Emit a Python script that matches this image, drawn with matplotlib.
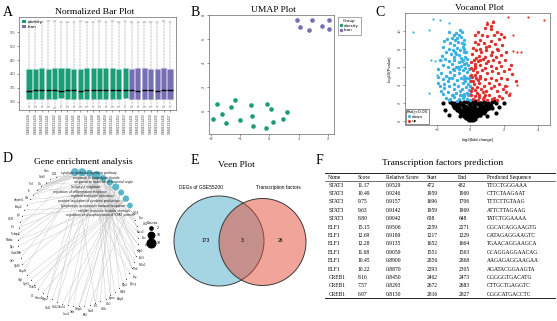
import numpy as np
import matplotlib
matplotlib.use('Agg')
import matplotlib.pyplot as plt
from matplotlib.patches import Circle, Patch
from matplotlib.lines import Line2D

W, H = 557, 321
SERIF = 'Liberation Serif'
SANS = 'Liberation Sans'
GREEN = '#1B9E77'
PURPLE = '#7570B3'
BLUE = '#3DB0E0'
RED = '#E0312F'

# ---------------- A: normalized box plot ----------------
samples = ['GSM1331428', 'GSM1331429', 'GSM1331440', 'GSM1331441', 'GSM1331442',
           'GSM1331443', 'GSM1331444', 'GSM1331445', 'GSM1331446', 'GSM1331447',
           'GSM1331448', 'GSM1331449', 'GSM1331450', 'GSM1331451', 'GSM1331452',
           'GSM1331453', 'GSM1331431', 'GSM1331432', 'GSM1331433', 'GSM1331434',
           'GSM1331435', 'GSM1331436', 'GSM1331437']
groups = ['obesity'] * 16 + ['lean'] * 7
box_med = [3.40, 3.41, 3.41, 3.42, 3.41, 3.40, 3.41, 3.41, 3.40, 3.41, 3.41, 3.41,
           3.42, 3.42, 3.41, 3.41, 3.41, 3.40, 3.41, 3.41, 3.40, 3.41, 3.41]
box_q1 = [3.11, 3.11, 3.11, 3.11, 3.11, 3.12, 3.11, 3.11, 3.11, 3.11, 3.11, 3.11,
          3.11, 3.11, 3.11, 3.12, 3.11, 3.11, 3.11, 3.11, 3.11, 3.11, 3.11]
box_q3 = [4.19, 4.19, 4.20, 4.19, 4.21, 4.22, 4.20, 4.19, 4.18, 4.20, 4.20, 4.21,
          4.20, 4.21, 4.19, 4.22, 4.19, 4.20, 4.20, 4.18, 4.19, 4.21, 4.19]
box_lo = [2.81, 2.80, 2.81, 2.80, 2.78, 2.80, 2.81, 2.80, 2.81, 2.80, 2.81, 2.80,
          2.81, 2.80, 2.81, 2.80, 2.81, 2.80, 2.81, 2.80, 2.81, 2.80, 2.81]
box_hi = [5.88, 5.90, 5.88, 5.89, 5.91, 5.88, 5.87, 5.86, 5.89, 5.88, 5.87, 5.89,
          5.88, 5.89, 5.88, 5.90, 5.87, 5.88, 5.87, 5.86, 5.88, 5.89, 5.88]

# ---------------- B: UMAP ----------------
umap_obese_x = [-1.80, -1.93, -1.61, -1.49, -1.31, -1.18, -1.02, -0.63, -0.60, -0.55,
                -0.12, -0.07, 0.05, 0.12, 0.45, 0.59]
umap_obese_y = [0.58, -0.67, -0.25, -0.98, 0.33, 0.94, -0.75, 0.50, -0.39, -1.25,
                -1.39, 0.63, 0.17, -0.89, -0.64, -0.08]
umap_lean_x = [0.93, 1.04, 1.44, 1.36, 1.78, 2.04, 2.04]
umap_lean_y = [7.61, 7.05, 7.61, 6.78, 7.13, 7.61, 6.83]

# ---------------- C: volcano ----------------
down_x = [-1.25, -1.0, -0.85, -0.7, -0.55, -1.1, -0.6, -0.9, -1.4, -0.75, -0.5, -1.2, -1.55, -0.95,
          -1.6, -1.3, -1.05, -0.8, -0.6, -0.45, -1.45, -1.15, -0.9, -0.65, -0.4, -1.7, -0.3, -1.0,
          -1.8, -1.5, -1.25, -0.95, -0.7, -0.45, -0.25, -1.6, -1.35, -1.1, -0.85, -0.55, -0.3, -0.15,
          -1.9, -1.0, -0.7, -1.75, -1.45, -1.2, -0.95, -0.65, -0.4, -0.2, -0.1, -1.65, -1.35, -1.1,
          -0.8, -0.55, -0.3, -1.9, -0.95, -0.15, -1.8, -1.55, -1.25, -1.0, -0.75, -0.5, -0.25, -0.08,
          -1.6, -1.35, -1.1, -0.85, -0.6, -0.35, -0.12, -1.45, -1.2, -0.95, -0.7, -0.45, -0.2, -0.05,
          -0.35, -0.4, -0.25, -0.2, -0.1, -0.05, -0.05, -0.03, -0.02, -0.5, -0.8, -0.35, -0.55, -0.35,
          -0.45, -0.25, -0.45, -0.6, -0.35, -0.8, -1.05, -1.3, -0.5, -0.75, -1.05, -0.85, -1.3, -1.55,
          -1.75, -1.95, -0.35, -0.2, -0.5]
down_y = [9.9, 9.6, 9.8, 9.5, 9.3, 9.2, 10.1, 9.0, 9.1, 8.8, 8.7, 8.6, 8.9, 8.4,
          8.2, 8.0, 7.9, 8.1, 7.9, 8.2, 7.6, 7.4, 7.6, 7.3, 7.6, 7.2, 7.1, 7.1,
          6.8, 6.9, 6.6, 6.8, 6.5, 6.7, 6.4, 6.2, 6.0, 6.3, 6.0, 6.1, 5.9, 6.2,
          5.8, 5.6, 5.7, 5.3, 5.0, 5.4, 5.1, 5.3, 5.0, 5.4, 4.8, 4.6, 4.4, 4.7,
          4.5, 4.7, 4.4, 4.2, 4.1, 4.1, 3.8, 3.6, 3.9, 3.5, 3.8, 3.5, 3.7, 3.4,
          3.0, 3.2, 2.9, 3.1, 2.8, 3.0, 2.8, 2.5, 2.4, 2.6, 2.35, 2.5, 2.4, 2.3,
          9.0, 8.0, 7.6, 6.9, 5.8, 5.0, 4.4, 3.8, 3.0, 9.9, 9.2, 8.5, 7.0, 6.3,
          5.6, 4.8, 4.2, 3.3, 2.7, 2.2, 2.8, 2.3, 6.6, 6.0, 5.8, 7.4, 4.8, 4.1,
          3.3, 4.9, 4.6, 3.1, 2.9]
down_out_x = [-3.39, -2.22, -1.82, -2.46, -2.36, -2.08, -1.76, -2.46, -1.27, -2.0]
down_out_y = [9.87, 11.33, 11.25, 10.13, 6.78, 6.6, 6.78, 3.06, 10.88, 5.1]
up_x = [1.0, 1.35, 0.85, 1.2, 1.6, 0.7, 1.0, 1.4, 1.85, 0.6, 1.25, 1.7, 2.0,
        0.45, 0.8, 1.1, 1.45, 1.9, 0.35, 0.65, 0.95, 1.3, 1.65, 2.1, 0.5, 0.85, 1.2, 1.55, 1.85,
        0.2, 0.45, 0.75, 1.05, 1.35, 1.7, 2.05, 0.3, 0.6, 0.9, 1.2, 1.5, 1.85, 2.3, 0.15, 0.4,
        0.7, 1.0, 1.3, 1.65, 2.0, 0.1, 0.35, 0.6, 0.9, 1.2, 1.5, 1.8, 2.2, 0.2, 0.5, 0.8, 1.1,
        1.4, 1.7, 2.05, 0.08, 0.3, 0.65, 0.95, 1.25, 1.6, 1.95, 0.05, 0.25, 0.5, 0.8, 1.1, 1.4,
        1.7, 0.15, 0.45, 0.75, 1.0, 1.3, 1.6, 2.3, 0.25, 0.15, 0.4,
        0.3, 0.25, 0.15, 0.1, 0.05, 0.05, 0.03, 0.02, 0.02, 0.45, 0.55, 0.35, 0.3, 0.25,
        0.45, 0.4, 0.5, 0.9, 0.6, 0.95, 0.55, 0.75, 0.95, 1.6, 2.4, 2.5, 2.7, 1.9, 2.1, 1.25]
up_y = [10.8, 11.0, 10.3, 10.2, 9.9, 9.6, 9.4, 9.5, 9.7, 9.0, 8.9, 9.1, 9.3,
        8.5, 8.6, 8.3, 8.5, 8.4, 7.9, 7.7, 7.9, 7.6, 7.9, 7.7, 7.2, 7.1, 7.3, 7.1, 7.3,
        6.8, 6.6, 6.9, 6.6, 6.8, 6.5, 6.7, 6.1, 6.2, 5.9, 6.1, 5.9, 6.1, 5.8, 5.6, 5.4,
        5.6, 5.3, 5.5, 5.3, 5.5, 4.9, 4.7, 5.0, 4.6, 4.8, 4.5, 4.8, 4.6, 4.1, 4.2, 3.9, 4.2,
        3.9, 4.1, 3.9, 3.6, 3.4, 3.5, 3.3, 3.6, 3.3, 3.5, 2.9, 2.7, 2.9, 2.6, 2.8, 2.5,
        2.7, 2.35, 2.3, 2.4, 2.3, 2.35, 2.3, 2.9, 6.3, 4.4, 3.1,
        9.5, 8.8, 8.1, 7.4, 6.5, 5.9, 5.1, 4.4, 3.3, 9.9, 8.0, 7.0, 5.9, 5.1,
        4.5, 3.7, 2.6, 2.9, 6.7, 6.4, 4.8, 3.2, 8.2, 8.0, 6.2, 5.2, 4.4, 2.5, 3.2, 10.5]
up_out_x = [0.98, 1.37, 2.23, 3.42, 4.39, 2.56, 2.56, 3.02, 2.8, 2.36, 2.76, 2.2]
up_out_y = [10.95, 11.06, 11.55, 11.55, 11.25, 9.58, 7.79, 7.67, 7.67, 3.06, 4.0, 3.8]
ns_x = [-1.2, -0.95, -0.7, -0.45, -0.2, 0.05, 0.3, 0.55, 0.8, 1.05, 1.3, 1.5,
        -1.05, -0.8, -0.55, -0.3, -0.05, 0.2, 0.45, 0.7, 0.95, 1.2,
        -0.9, -0.65, -0.4, -0.15, 0.1, 0.35, 0.6, 0.85, 1.1,
        -0.7, -0.5, -0.3, -0.1, 0.1, 0.3, 0.5, 0.7, 0.9,
        -0.55, -0.35, -0.15, 0.05, 0.25, 0.45, 0.65,
        -0.4, -0.2, 0.0, 0.2, 0.4, -0.25, -0.08, 0.08, 0.25, -0.1, 0.05, 0.15,
        -1.5, 1.7, -1.3, 1.5, 2.0, -1.6, -0.6, 0.6, -0.25, 0.3, -0.8, 1.0, 0.0, -0.05, 0.12,
        -1.1, -0.85, -0.6, -0.35, -0.1, 0.15, 0.4, 0.65, 0.9, 1.15, 1.4,
        -0.95, -0.7, -0.45, -0.2, 0.05, 0.3, 0.55, 0.8, 1.05, 1.3,
        -0.8, -0.55, -0.25, 0.0, 0.25, 0.5, 0.75, 1.0,
        -0.6, -0.4, -0.2, 0.0, 0.2, 0.4, 0.6, 0.8,
        -0.45, -0.25, -0.05, 0.15, 0.35, 0.55, -0.3, -0.1, 0.1, 0.3, -0.15, 0.0, 0.15]
ns_y = [2.1, 2.0, 2.15, 1.95, 2.1, 2.0, 2.15, 1.95, 2.1, 2.0, 2.1, 1.9,
        1.75, 1.65, 1.8, 1.6, 1.75, 1.6, 1.8, 1.6, 1.75, 1.6,
        1.4, 1.3, 1.45, 1.3, 1.45, 1.3, 1.4, 1.3, 1.4,
        1.1, 1.0, 1.15, 1.0, 1.1, 0.95, 1.1, 1.0, 1.1,
        0.8, 0.7, 0.8, 0.7, 0.8, 0.7, 0.8,
        0.5, 0.45, 0.55, 0.45, 0.5, 0.25, 0.2, 0.28, 0.2, 0.05, 0.08, 0.02,
        1.2, 1.5, 0.6, 0.8, 1.9, 1.9, 0.55, 0.6, 1.2, 1.9, 1.9, 0.45, 0.9, 0.35, 0.6,
        1.9, 1.85, 2.0, 2.05, 1.9, 2.05, 2.0, 2.0, 1.9, 1.85, 2.15,
        1.55, 1.5, 1.6, 1.5, 1.55, 1.55, 1.5, 1.5, 1.5, 1.35,
        1.2, 1.2, 1.25, 1.2, 1.2, 1.25, 1.2, 1.25,
        0.9, 0.9, 0.95, 0.9, 0.9, 0.9, 0.9, 0.85,
        0.6, 0.6, 0.62, 0.6, 0.62, 0.6, 0.35, 0.38, 0.4, 0.35, 0.15, 0.12, 0.15]

# ---------------- D: gene-term network ----------------
terms = ['cytokine-mediated signaling pathway', 'response to lipopolysaccharide',
         'response to molecule of bacterial origin', 'leukocyte migration',
         'regulation of inflammatory response', 'myeloid leukocyte activation',
         'positive regulation of cytokine production', 'lymphocyte activation in immune response',
         'cellular response to biotic stimulus', 'regulation of phosphorylation of STAT protein']
genes = ['Cd14', 'Il1rn', 'Ccl2', 'Socs3', 'Fos', 'Jun', 'Egr1', 'Atf3', 'Nr4a1', 'Tlr4',
         'Lep', 'Pparg', 'Spp1', 'Cd68', 'Mmp9', 'Itgam', 'Ccr2', 'Csf1r', 'Il10', 'Stat3',
         'Klf4', 'Cebpb', 'Sele', 'Icam1', 'Vcam1', 'Cxcl2', 'Cxcl1', 'Ptgs2', 'Hmox1', 'C3',
         'Thbs1', 'Cyr61', 'Ctgf', 'Dusp1', 'Zfp36', 'Ier3', 'Gadd45b', 'Myc', 'Nfkbia', 'Tnfaip3',
         'Irf1', 'Cd36', 'Lpl', 'Fabp4', 'Serpine1', 'Cfd', 'Il6', 'Tnf', 'Il1b', 'Cxcl8',
         'Osm', 'Ccl3']
gene_terms = [[0, 3], [0], [3, 4], [0, 9], [1], [1, 2], [2], [1, 5], [2], [1, 2, 4],
              [0], [4], [3], [5], [3], [3, 5], [3], [5], [0, 6], [9],
              [6], [6, 7], [3], [3, 7], [7], [1, 3], [3], [1, 2], [8], [5],
              [8], [8], [8], [1], [6], [2], [8], [7], [4, 8], [4],
              [0, 6], [5], [9], [9], [6], [7], [0, 1, 4], [0, 1, 6], [0, 1, 2], [3, 6],
              [0], [3]]
count_levels = [2, 10, 18]

# ---------------- E: Venn ----------------
venn_sets = ['DEGs of GSE55200', 'Transcription factors']
venn_counts = [173, 3, 26]

# ---------------- F: TF prediction table ----------------
tf_header = ['Name', 'Score', 'Relative Score', 'Start', 'End', 'Predicted Sequence']
tf_name = ['STAT3'] * 5 + ['ELF1'] * 6 + ['CREB1'] * 3
tf_score = ['11.17', '10.49', '9.75', '9.63', '8.80', '15.15', '12.69', '12.28', '11.68',
            '10.45', '10.22', '8.16', '7.57', '6.97']
tf_rel = ['0.9529', '0.9246', '0.9157', '0.9142', '0.9042', '0.9506', '0.9189', '0.9135',
          '0.9059', '0.8900', '0.8870', '0.8450', '0.8293', '0.8130']
tf_start = ['472', '1959', '1696', '1959', '638', '2259', '1217', '1652', '1551', '2856',
            '2293', '2462', '2672', '2816']
tf_end = ['482', '1969', '1706', '1969', '648', '2271', '1229', '1664', '1563', '2868',
          '2305', '2473', '2683', '2827']
tf_seq = ['TTCCTGGGAAA', 'CTTCTAAGAAT', 'TTTCTTGTAAG', 'ATTCTTAGAAG', 'TATCTGGAAAA',
          'GGCACAGGAAGTG', 'GATAGAGGAAGTC', 'TGAACAGGAAGCA', 'GCAGGAGGAACAG', 'AAGAGAGGAAGAA',
          'AGATACGGAAGTA', 'GGGGGTGACATG', 'CTTGCTGAGGTC', 'GGGCATGACCTC']


def box(x0, y0, x1, y1):
    return [x0 / W, 1 - y1 / H, (x1 - x0) / W, (y1 - y0) / H]


def style_frame(ax):
    for s in ax.spines.values():
        s.set_linewidth(0.5)
        s.set_color('#666666')
    ax.tick_params(labelsize=3, length=1.5, width=0.4, pad=1, colors='#444444')
    for lab in ax.get_xticklabels() + ax.get_yticklabels():
        lab.set_fontfamily(SANS)


fig = plt.figure(figsize=(W / 100, H / 100), dpi=100)

# background axes for panel letters and titles (pixel coordinates)
ov = fig.add_axes([0, 0, 1, 1])
ov.set_xlim(0, W)
ov.set_ylim(H, 0)
ov.axis('off')
for letter, x, y in [('A', 8, 12), ('B', 195, 12), ('C', 380, 12),
                     ('D', 8, 158), ('E', 195, 160), ('F', 319, 160)]:
    ov.text(x, y, letter, fontsize=10, family=SERIF, ha='center', va='center')
for title, x, y in [('Normalized Bar Plot', 95, 12.5), ('UMAP Plot', 273, 10),
                    ('Vocanol Plot', 479, 8.5), ('Gene enrichment analysis', 83, 162),
                    ('Veen Plot', 236, 165), ('Transcription factors prediction', 443, 163)]:
    ov.text(x, y, title, fontsize=6.8, family=SERIF, ha='center', va='center')

# ---- A
axa = fig.add_axes(box(19, 17, 176, 110))
stats = []
for i in range(len(samples)):
    stats.append(dict(med=box_med[i], q1=box_q1[i], q3=box_q3[i],
                      whislo=box_lo[i], whishi=box_hi[i], label=samples[i]))
pos = np.arange(1, len(samples) + 1)
bp = axa.bxp(stats, positions=pos, widths=0.8, patch_artist=True, showfliers=False,
             medianprops=dict(color='black', lw=1.0),
             whiskerprops=dict(color='#555555', lw=0.35, linestyle=(0, (1.5, 1.5))),
             capprops=dict(color='#555555', lw=0.35),
             boxprops=dict(lw=0.4))
for patch, g in zip(bp['boxes'], groups):
    c = GREEN if g == 'obesity' else PURPLE
    patch.set_facecolor(c)
    patch.set_edgecolor('#8fd0bd' if g == 'obesity' else '#a9a5d6')
axa.set_xlim(-0.56, 23.94)
axa.set_ylim(2.70, 6.05)
axa.set_yticks([3.0, 3.5, 4.0, 4.5, 5.0, 5.5])
axa.set_xticks(pos)
axa.set_xticklabels(samples, rotation=90)
style_frame(axa)
axa.tick_params(axis='x', labelsize=2.4, length=1.2)
axa.legend(handles=[Patch(fc=GREEN), Patch(fc=PURPLE)], labels=['obesity', 'lean'],
           loc='upper left', frameon=False, fontsize=3, handlelength=0.9, handleheight=0.9,
           handletextpad=0.4, borderaxespad=0.3, labelspacing=0.2)

# ---- B
axb = fig.add_axes(box(209, 15, 334, 134))
axb.scatter(umap_obese_x, umap_obese_y, s=11, color=GREEN, lw=0)
axb.scatter(umap_lean_x, umap_lean_y, s=11, color=PURPLE, lw=0)
axb.set_xlim(-2.06, 2.20)
axb.set_ylim(-1.89, 8.03)
axb.set_xticks([-2, -1, 0, 1, 2])
axb.set_yticks([0, 2, 4, 6, 8])
style_frame(axb)
for lab in axb.get_yticklabels():
    lab.set_rotation(90)
    lab.set_va('center')
axb.legend(handles=[Line2D([], [], marker='o', ms=1.5, lw=0, color=GREEN),
                    Line2D([], [], marker='o', ms=1.5, lw=0, color=PURPLE)],
           labels=['obesity', 'lean'], title='Group', title_fontsize=3, fontsize=3,
           loc='upper left', bbox_to_anchor=(336 / W, 1 - 15 / H),
           bbox_transform=fig.transFigure, fancybox=False, edgecolor='#666666',
           handlelength=0.6, handletextpad=0.3, labelspacing=0.15, borderpad=0.5,
           framealpha=1).get_frame().set_linewidth(0.4)

# ---- C
axc = fig.add_axes(box(405, 13, 550, 125))
axc.scatter(ns_x, ns_y, s=9, color='black', lw=0)
axc.scatter(down_x, down_y, s=6, color=BLUE, lw=0)
axc.scatter(down_out_x, down_out_y, s=2.5, color=BLUE, lw=0)
axc.scatter(up_x, up_y, s=6, color=RED, lw=0)
axc.scatter(up_out_x, up_out_y, s=2.5, color=RED, lw=0)
axc.set_xlim(-3.89, 4.74)
axc.set_ylim(-0.5, 12.0)
axc.set_xticks([-2, 0, 2, 4])
axc.set_yticks([0, 2, 4, 6, 8, 10])
style_frame(axc)
for lab in axc.get_yticklabels():
    lab.set_rotation(90)
    lab.set_va('center')
axc.set_xlabel('log2(fold change)', fontsize=3, family=SANS, labelpad=4)
axc.set_ylabel('-log10(Pvalue)', fontsize=3, family=SANS, labelpad=4)
lg = axc.legend(handles=[Line2D([], [], marker='o', ms=1.2, lw=0, color=BLUE),
                         Line2D([], [], marker='o', ms=1.2, lw=0, color=RED)],
                labels=['down', 'up'], title='Padj<0.05', title_fontsize=3, fontsize=3,
                loc='lower left', fancybox=False, edgecolor='#333333', alignment='left',
                handlelength=0.8, handletextpad=0.3, labelspacing=0.1, borderpad=0.3,
                borderaxespad=0.15, framealpha=1)
lg.get_frame().set_linewidth(0.4)

# ---- D
axd = fig.add_axes(box(0, 150, 185, 321))
axd.set_xlim(0, 185)
axd.set_ylim(321, 150)
axd.axis('off')
cx, cy, rx, ry = 78, 239, 60, 67
g_ang = np.radians(np.linspace(22, -248, len(genes)))
t_ang = np.radians(np.linspace(93, 30, len(terms)))
gx, gy = cx + rx * np.cos(g_ang), cy - ry * np.sin(g_ang)
tx, ty = cx + rx * np.cos(t_ang), cy - ry * np.sin(t_ang)
t_count = np.zeros(len(terms))
for gi, tl in enumerate(gene_terms):
    for ti in tl:
        axd.plot([gx[gi], tx[ti]], [gy[gi], ty[ti]], color='#c4c4c4', lw=0.3, zorder=1)
        t_count[ti] += 1
axd.scatter(gx, gy, s=0.6, color='#333333', lw=0, zorder=2)
for i, name in enumerate(genes):
    off = 3.0 + 3.0 * (i % 3)
    axd.text(gx[i] + off * np.cos(g_ang[i]), gy[i] - off * np.sin(g_ang[i]), name,
             fontsize=1.9, family=SANS, ha='center', va='center', color='#222222', zorder=3)
axd.scatter(tx, ty, s=t_count * 2.6 + 6, color='#49AFC4', lw=0, alpha=0.9, zorder=4)
for i, name in enumerate(terms):
    ly = 173 + i * 4.7
    if i < 3:
        axd.text(tx[i] + 14, ly, name, fontsize=2.4, family=SANS, ha='center',
                 va='center', color='#222222', zorder=5)
    else:
        axd.text(tx[i] + 4, ly, name, fontsize=2.4, family=SANS, ha='right',
                 va='center', color='#222222', zorder=5)
axd.text(153, 222.5, 'Counts', fontsize=2.6, family=SANS, ha='center', va='center')
for k, (c, yy) in enumerate(zip(count_levels, [228, 235, 243])):
    axd.scatter([151], [yy], s=c * 2.6 + 6, color='black', lw=0)
    axd.text(157, yy, str(c), fontsize=2.6, family=SANS, ha='left', va='center')

# ---- E
axe = fig.add_axes(box(165, 150, 315, 321))
axe.set_xlim(165, 315)
axe.set_ylim(321, 150)
axe.axis('off')
for (x, y, r, c) in [(219, 241, 45, '#4DADC9'), (262.5, 242, 43.5, '#E54B35')]:
    axe.add_patch(Circle((x, y), r, fc=c, ec='none', alpha=0.5))
    axe.add_patch(Circle((x, y), r, fill=False, ec='#3a3a3a', lw=0.7))
axe.text(201, 187, venn_sets[0], fontsize=3.5, family=SANS, ha='center', va='center')
axe.text(278, 187, venn_sets[1], fontsize=3.5, family=SANS, ha='center', va='center')
for x, v in zip([206, 242, 280], venn_counts):
    axe.text(x, 240, str(v), fontsize=3.6, family=SANS, ha='center', va='center')

# ---- F
axf = fig.add_axes(box(315, 150, 557, 321))
axf.set_xlim(315, 557)
axf.set_ylim(321, 150)
axf.axis('off')
col_x = [328.3, 357.7, 386, 426.7, 458.3, 486.7]
for x, h in zip(col_x, tf_header):
    axf.text(x, 177.3, h, fontsize=4, family=SERIF, ha='left', va='center')
cols = [tf_name, tf_score, tf_rel, tf_start, tf_end, tf_seq]
for r in range(len(tf_name)):
    y = 185 + r * 8.41
    for x, col in zip(col_x, cols):
        axf.text(x, y, col[r], fontsize=4, family=SERIF, ha='left', va='center')
for y, lw in [(173.3, 0.6), (180.9, 0.4), (298.3, 0.6)]:
    axf.plot([325, 555], [y, y], color='black', lw=lw)

fig.savefig('out.png', dpi=100)
